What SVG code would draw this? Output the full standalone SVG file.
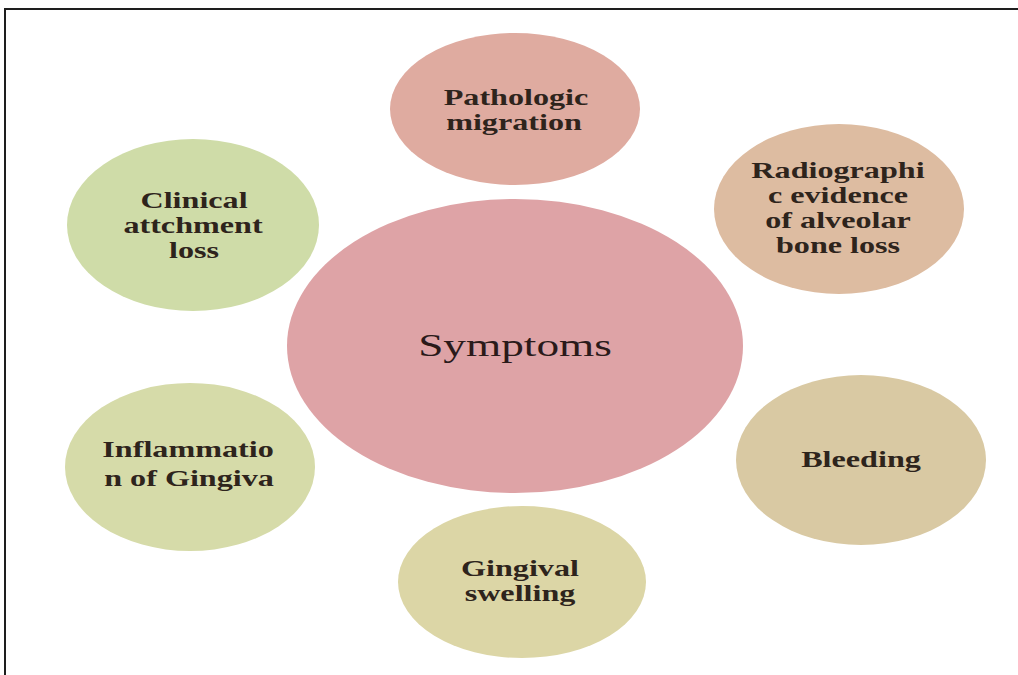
<svg xmlns="http://www.w3.org/2000/svg" width="1018" height="675" viewBox="0 0 1018 675">
<style>
.t{font-family:"Liberation Serif","Times New Roman",serif;font-size:24px;font-weight:bold;fill:#2e241c;text-anchor:middle}
.c{font-size:31px;font-weight:normal;fill:#2a1a1a}
</style>
<rect width="1018" height="675" fill="#ffffff"/>
<path d="M5,675 V9 H1018" fill="none" stroke="#1e1e1e" stroke-width="2"/>
<g id="connectors"></g>
<g id="symptoms">
<ellipse cx="515" cy="346" rx="228" ry="147" fill="#dea3a6"/>
<text class="t c" transform="translate(515,356) scale(1.46,1)">Symptoms</text>
</g>
<g id="pathologic">
<ellipse cx="515" cy="109" rx="125" ry="76" fill="#dfaba0"/>
<text class="t" transform="translate(516,105) scale(1.34,1)">Pathologic</text>
<text class="t" transform="translate(514,130) scale(1.34,1)">migration</text>
</g>
<g id="radiographic">
<ellipse cx="839" cy="209" rx="125" ry="85" fill="#ddbca1"/>
<text class="t" transform="translate(838,178) scale(1.34,1)">Radiographi</text>
<text class="t" transform="translate(838,203) scale(1.34,1)">c evidence</text>
<text class="t" transform="translate(838,228) scale(1.34,1)">of alveolar</text>
<text class="t" transform="translate(838,253) scale(1.34,1)">bone loss</text>
</g>
<g id="clinical">
<ellipse cx="193" cy="225" rx="126" ry="86" fill="#cfdca8"/>
<text class="t" transform="translate(194,208) scale(1.34,1)">Clinical</text>
<text class="t" transform="translate(193,233) scale(1.34,1)">attchment</text>
<text class="t" transform="translate(194,258) scale(1.34,1)">loss</text>
</g>
<g id="inflammation">
<ellipse cx="190" cy="467" rx="125" ry="84" fill="#d6dba9"/>
<text class="t" transform="translate(188,457) scale(1.34,1)">Inflammatio</text>
<text class="t" transform="translate(189,486) scale(1.34,1)">n of Gingiva</text>
</g>
<g id="bleeding">
<ellipse cx="861" cy="460" rx="125" ry="85" fill="#d9c9a3"/>
<text class="t" transform="translate(861,467) scale(1.34,1)">Bleeding</text>
</g>
<g id="gingival">
<ellipse cx="522" cy="582" rx="124" ry="76" fill="#dcd6a6"/>
<text class="t" transform="translate(520,576) scale(1.34,1)">Gingival</text>
<text class="t" transform="translate(520,601) scale(1.34,1)">swelling</text>
</g>
</svg>
